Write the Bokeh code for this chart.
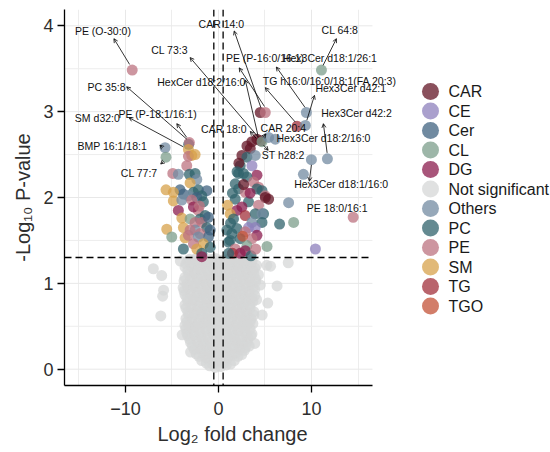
import math
from bokeh.plotting import figure
from bokeh.layouts import row
from bokeh.models import (ColumnDataSource, Span, Arrow, OpenHead, Label,
                          FixedTicker, CategoricalColorMapper, Range1d)
from bokeh.embed import file_html
from bokeh.resources import INLINE
from bokeh.core.properties import value

FONT = "Liberation Sans"

# ---------------- data ----------------
classes = ["CAR", "CE", "Cer", "CL", "DG", "Not significant", "Others",
           "PC", "PE", "SM", "TG", "TGO"]
class_colors = ["#631626", "#8e80bc", "#406380", "#7c9e8b", "#8b1c4e", "#d6d7d7",
                "#738ba2", "#30636c", "#bc7380", "#d7a24b", "#a2303b", "#c35237"]

fc_cut = 0.5
p_cut = 0.05
x_lim = (-16.55, 16.55)
x_ticks = [-10, 0, 10]
x_minor = [-15, -5, 5, 15]
y_ticks = [0, 1, 2, 3, 4]
y_minor = [0.5, 1.5, 2.5, 3.5]

# non-significant lipids (log2 FC, -log10 p)
grey_lfc = [
    -0.95, -0.35, 0.25, 0.85,
    -1.3, -0.6, 0.0, 0.6, 1.3,
    -1.8, -1.1, -0.4, 0.3, 1.0, 1.7,
    -2.1, -1.4, -0.7, 0.0, 0.7, 1.4, 2.1,
    -2.4, -1.7, -1.0, -0.2, 0.5, 1.2, 1.9, 2.5,
    -2.6, -1.9, -1.2, -0.5, 0.2, 0.9, 1.6, 2.3, 2.8,
    -2.8, -2.1, -1.4, -0.6, 0.1, 0.8, 1.5, 2.2, 2.9,
    -3.0, -2.3, -1.6, -0.9, -0.2, 0.5, 1.2, 1.9, 2.6, 3.1,
    -3.1, -2.4, -1.7, -1.0, -0.3, 0.4, 1.1, 1.8, 2.5, 3.2,
    -3.3, -2.6, -1.9, -1.2, -0.5, 0.2, 0.9, 1.6, 2.3, 3.0, 3.5,
    -3.4, -2.7, -2.0, -1.3, -0.6, 0.1, 0.8, 1.5, 2.2, 2.9, 3.6,
    -3.5, -2.8, -2.1, -1.4, -0.7, 0.0, 0.7, 1.4, 2.1, 2.8, 3.4,
    -3.2, -2.5, -1.8, -1.1, -0.4, 0.3, 1.0, 1.7, 2.4, 3.1, 3.7,
    -3.4, -2.9, -2.2, -1.5, -0.8, -0.1, 0.6, 1.3, 2.0, 2.7, 3.4,
    -3.5, -2.8, -2.1, -1.4, -0.7, 0.0, 0.7, 1.4, 2.1, 2.8, 3.5,
    -3.2, -2.5, -1.8, -1.1, -0.4, 0.3, 1.0, 1.7, 2.4, 3.1, 3.8,
    -3.3, -2.6, -1.9, -1.2, -0.5, 0.2, 0.9, 1.6, 2.3, 3.0, 3.8,
    -3.5, -2.9, -2.2, -1.5, -0.8, -0.1, 0.6, 1.3, 2.0, 2.6, 3.4,
    -3.6, -2.9, -2.2, -1.5, -0.8, -0.1, 0.6, 1.3, 2.0, 2.7, 3.4,
    -3.3, -2.6, -1.9, -1.2, -0.5, 0.2, 0.9, 1.6, 2.3, 3.0, 3.7,
    -3.4, -2.7, -2.0, -1.3, -0.6, 0.1, 0.8, 1.5, 2.2, 2.9, 3.6, 4.1,
    -3.6, -3.0, -2.3, -1.6, -0.9, -0.2, 0.5, 1.2, 1.9, 2.6, 3.3, 3.9,
    -3.7, -3.0, -2.3, -1.6, -0.9, -0.2, 0.5, 1.2, 1.9, 2.6, 3.3, 3.9,
    -3.3, -2.6, -1.9, -1.2, -0.5, 0.2, 0.9, 1.6, 2.3, 3.0, 3.7,
    -3.4, -2.7, -2.0, -1.3, -0.6, 0.1, 0.8, 1.5, 2.2, 2.9, 3.6,
    -3.7, -3.0, -2.3, -1.6, -0.9, -0.2, 0.5, 1.2, 1.9, 2.6, 3.3, 4.0,
    -3.6, -2.9, -2.2, -1.5, -0.8, -0.1, 0.6, 1.3, 2.0, 2.7, 3.4, 4.0,
    -3.2, -2.5, -1.8, -1.1, -0.4, 0.3, 1.0, 1.7, 2.4, 3.1, 3.8,
    -3.3, -2.6, -1.9, -1.2, -0.5, 0.2, 0.9, 1.6, 2.3, 3.0, 3.7,
    -3.6, -2.9, -2.2, -1.5, -0.8, -0.1, 0.6, 1.3, 2.0, 2.7, 3.4, 3.9,
    -3.5, -2.8, -2.1, -1.4, -0.7, 0.0, 0.7, 1.4, 2.1, 2.8, 3.5, 4.1,
    -3.3, -2.7, -2.0, -1.3, -0.6, 0.1, 0.8, 1.5, 2.2, 2.9, 3.6,
    -3.1, -2.4, -1.7, -1.0, -0.3, 0.4, 1.1, 1.8, 2.5, 3.2,
    -7.0, -6.1, -5.9, -6.0, -6.2, -3.8, -3.6, -3.9, -3.0, -4.1,
    7.5, 5.2, 6.3, 5.3, 4.7, 4.5, 4.3, 5.6, 3.9, 3.3,
]
grey_logp = [
    0.04, 0.02, 0.03, 0.05,
    0.07, 0.06, 0.08, 0.07, 0.06,
    0.10, 0.12, 0.09, 0.11, 0.13, 0.10,
    0.15, 0.14, 0.16, 0.15, 0.14, 0.16, 0.15,
    0.18, 0.20, 0.19, 0.21, 0.18, 0.20, 0.19, 0.17,
    0.23, 0.24, 0.22, 0.23, 0.25, 0.22, 0.24, 0.23, 0.22,
    0.27, 0.26, 0.28, 0.27, 0.29, 0.26, 0.28, 0.27, 0.25,
    0.31, 0.32, 0.30, 0.31, 0.33, 0.30, 0.32, 0.31, 0.30, 0.32,
    0.35, 0.36, 0.34, 0.35, 0.37, 0.34, 0.36, 0.35, 0.34, 0.36,
    0.39, 0.40, 0.38, 0.39, 0.41, 0.38, 0.40, 0.39, 0.38, 0.40, 0.39,
    0.42, 0.44, 0.43, 0.45, 0.42, 0.43, 0.44, 0.42, 0.45, 0.43, 0.41,
    0.47, 0.48, 0.46, 0.47, 0.49, 0.46, 0.48, 0.47, 0.46, 0.48, 0.47,
    0.51, 0.50, 0.52, 0.51, 0.53, 0.50, 0.52, 0.51, 0.50, 0.52, 0.53,
    0.55, 0.56, 0.54, 0.55, 0.57, 0.54, 0.56, 0.55, 0.54, 0.56, 0.55,
    0.59, 0.60, 0.58, 0.59, 0.61, 0.58, 0.60, 0.59, 0.58, 0.60, 0.59,
    0.63, 0.64, 0.62, 0.63, 0.65, 0.62, 0.64, 0.63, 0.62, 0.64, 0.63,
    0.67, 0.66, 0.68, 0.67, 0.69, 0.66, 0.68, 0.67, 0.66, 0.68, 0.67,
    0.71, 0.72, 0.70, 0.71, 0.73, 0.70, 0.72, 0.71, 0.70, 0.72, 0.71,
    0.75, 0.76, 0.74, 0.75, 0.77, 0.74, 0.76, 0.75, 0.74, 0.76, 0.75,
    0.79, 0.80, 0.78, 0.79, 0.81, 0.78, 0.80, 0.79, 0.78, 0.80, 0.79,
    0.83, 0.82, 0.84, 0.83, 0.85, 0.82, 0.84, 0.83, 0.82, 0.84, 0.83, 0.81,
    0.87, 0.88, 0.86, 0.87, 0.89, 0.86, 0.88, 0.87, 0.86, 0.88, 0.87, 0.86,
    0.91, 0.92, 0.90, 0.91, 0.93, 0.90, 0.92, 0.91, 0.90, 0.92, 0.91, 0.93,
    0.95, 0.96, 0.94, 0.95, 0.97, 0.94, 0.96, 0.95, 0.94, 0.96, 0.95,
    0.99, 0.98, 1.00, 0.99, 1.01, 0.98, 1.00, 0.99, 0.98, 1.00, 0.99,
    1.03, 1.04, 1.02, 1.03, 1.05, 1.02, 1.04, 1.03, 1.02, 1.04, 1.03, 1.02,
    1.07, 1.08, 1.06, 1.07, 1.09, 1.06, 1.08, 1.07, 1.06, 1.08, 1.07, 1.05,
    1.11, 1.12, 1.10, 1.11, 1.13, 1.10, 1.12, 1.11, 1.10, 1.12, 1.11,
    1.15, 1.14, 1.16, 1.15, 1.17, 1.14, 1.16, 1.15, 1.14, 1.16, 1.15,
    1.19, 1.20, 1.18, 1.19, 1.21, 1.18, 1.20, 1.19, 1.18, 1.20, 1.19, 1.18,
    1.23, 1.24, 1.22, 1.23, 1.25, 1.22, 1.24, 1.23, 1.22, 1.24, 1.23, 1.21,
    1.26, 1.27, 1.25, 1.26, 1.28, 1.25, 1.27, 1.26, 1.25, 1.27, 1.26,
    1.28, 1.29, 1.27, 1.28, 1.29, 1.27, 1.28, 1.29, 1.27, 1.28,
    1.17, 1.09, 0.92, 0.85, 0.62, 0.95, 0.51, 0.40, 0.20, 1.26,
    1.24, 1.21, 0.97, 0.77, 0.63, 0.98, 1.10, 1.20, 0.30, 0.27,
]

# significant lipids
sig_lfc = [
    -3.20, -3.13, -3.23, -2.87, -3.23, -2.51, -3.41, -4.91, -4.31, -3.13,
    -2.51, -2.33, -3.05, -5.64, -4.13, -3.77, -4.85, -2.69, -2.16, -1.25,
    -1.79, -3.23, -2.33, -4.85, -3.94, -2.87, -1.62, -4.31, -2.16, -2.69,
    -2.05, -1.43, -3.94, -3.05, -1.97, -2.51, -1.79, -1.08, -1.25, -3.77,
    -5.56, -5.02, -3.59, -3.23, -2.51, -3.05, -1.97, -0.89, -1.08, -2.16,
    -1.62, -2.69, -2.33, -3.77, -0.89, -1.79, -1.79, -5.74, -5.64, -9.27,
    4.49, 5.03, 8.45, 9.45, 9.34, 11.07, 11.71, 9.99, 9.13, 7.54,
    6.57, 8.08, 10.42, 14.48, 5.22, 3.60, 4.14, 4.55, 4.68, 5.39,
    6.11, 3.06, 3.42, 2.52, 3.06, 3.95, 2.34, 3.60, 4.14, 2.16,
    2.69, 3.06, 1.80, 3.77, 4.31, 4.68, 4.14, 2.16, 2.88, 5.03,
    5.39, 5.03, 3.23, 1.80, 2.52, 4.31, 0.97, 1.98, 1.26, 1.62,
    2.88, 3.95, 4.85, 4.68, 3.60, 4.68, 3.23, 3.95, 1.98, 0.91,
    1.44, 2.88, 4.14, 2.34, 3.60, 1.26, 1.08, 3.06, 1.80, 2.88,
    2.34, 2.60, 2.20, 2.00, 1.50, 1.30, 1.50, 3.50, 4.00, 2.70,
    3.40, 1.10,
]
sig_logp = [
    2.62, 2.64, 2.56, 2.49, 2.48, 2.50, 2.37, 2.28, 2.27, 2.27,
    2.28, 2.21, 2.17, 2.09, 2.09, 2.04, 2.06, 2.06, 2.09, 2.08,
    2.02, 2.02, 2.00, 1.96, 1.97, 1.97, 1.95, 1.85, 1.85, 1.89,
    1.90, 1.79, 1.76, 1.75, 1.75, 1.71, 1.71, 1.77, 1.65, 1.65,
    1.63, 1.54, 1.53, 1.56, 1.62, 1.62, 1.58, 1.62, 1.54, 1.54,
    1.46, 1.46, 1.40, 1.40, 1.42, 1.35, 1.31, 2.58, 2.47, 3.485,
    2.99, 2.99, 2.83, 2.99, 2.84, 3.485, 2.45, 2.44, 2.27, 1.94,
    1.69, 1.71, 1.40, 1.77, 1.43, 2.65, 2.68, 2.66, 2.65, 2.70,
    2.68, 2.60, 2.57, 2.49, 2.47, 2.49, 2.37, 2.37, 2.26, 2.28,
    2.28, 2.24, 2.16, 2.18, 2.12, 2.08, 2.10, 2.10, 2.06, 2.02,
    1.98, 2.00, 1.95, 1.98, 1.89, 1.91, 1.91, 1.85, 1.81, 1.75,
    1.79, 1.81, 1.81, 1.81, 1.71, 1.71, 1.65, 1.65, 1.64, 1.62,
    1.58, 1.60, 1.56, 1.52, 1.52, 1.50, 1.48, 1.44, 1.40, 1.38,
    1.35, 1.55, 2.40, 2.30, 2.05, 1.70, 1.35, 1.32, 1.40, 2.15,
    2.05, 1.35,
]
sig_class = [
    "PC", "PE", "SM", "SM", "PE", "SM", "PE", "PE", "Others", "PC",
    "PC", "Others", "SM", "SM", "Cer", "Cer", "SM", "PC", "PC", "Cer",
    "PC", "Others", "Cer", "SM", "Others", "PE", "PC", "DG", "PE", "DG",
    "PE", "PC", "SM", "CL", "PC", "PE", "PE", "Cer", "PC", "SM",
    "SM", "CL", "SM", "PE", "Others", "PE", "PE", "Cer", "Cer", "Others",
    "SM", "PE", "SM", "PC", "PC", "PC", "DG", "Others", "CL", "PE",
    "CAR", "PE", "TG", "Others", "Others", "CL", "Others", "Others", "Others", "Others",
    "PC", "CL", "CE", "PE", "CL", "CAR", "CAR", "CAR", "CL", "Others",
    "Others", "CAR", "CAR", "CAR", "PC", "Others", "PC", "CE", "DG", "PC",
    "PC", "PC", "PC", "PE", "PE", "PC", "PC", "PC", "PE", "PE",
    "CAR", "CAR", "PC", "PC", "DG", "PE", "SM", "DG", "SM", "PC",
    "TG", "PC", "PC", "Others", "Others", "PC", "CE", "CE", "PC", "PC",
    "PC", "PE", "DG", "PC", "PE", "PC", "PC", "CL", "PE", "DG",
    "DG", "TGO", "CAR", "PC", "PC", "PC", "TG", "PC", "PE", "CAR",
    "DG", "PC",
]

label_text = ["PE (O-30:0)", "CAR 14:0", "CL 64:8", "PE (P-16:0/16:1)",
              "Hex3Cer d18:1/26:1", "CL 73:3", "HexCer d18:2/16:0",
              "TG h16:0/16:0/18:1(FA 20:3)", "Hex3Cer d42:1", "PC 35:8",
              "Hex3Cer d42:2", "PE (P-18:1/16:1)", "SM d32:0", "CAR 18:0",
              "CAR 20:4", "Hex3Cer d18:2/16:0", "BMP 16:1/18:1", "ST h28:2",
              "CL 77:7", "Hex3Cer d18:1/16:0", "PE 18:0/16:1"]
label_x = [-12.42, 0.31, 13.06, 5.00, 11.98, -5.26, -1.84, 11.95, 14.22, -12.03,
           14.84, -6.55, -13.02, 0.58, 6.97, 11.28, -11.42, 6.95, -8.52, 13.19, 12.76]
label_y = [3.94, 4.02, 3.95, 3.62, 3.62, 3.72, 3.34, 3.36, 3.27, 3.29,
           2.98, 2.97, 2.93, 2.80, 2.81, 2.69, 2.60, 2.49, 2.28, 2.16, 1.88]

# repel segments: from the lipid (start) to its label (end)
seg_x0 = [-9.55, 4.31, 4.55, 4.95, 4.25, 8.25, 9.30, 9.50, 11.25, 11.68,
          9.99, 4.85, 4.80, 4.05, -3.41, -3.41, -3.77, -6.00, -5.90]
seg_y0 = [3.55, 2.70, 3.05, 3.06, 2.72, 2.88, 3.05, 2.90, 3.54, 2.52,
          2.38, 2.61, 2.70, 2.69, 2.68, 2.70, 2.59, 2.58, 2.42]
seg_x1 = [-11.24, -3.05, 1.69, 2.23, 2.88, 5.03, 6.22, 10.32, 12.68, 11.28,
          9.77, 5.34, 5.10, 3.42, -9.87, -4.48, -9.62, -6.30, -6.21]
seg_y1 = [3.85, 3.63, 3.94, 3.51, 3.37, 3.28, 3.52, 3.19, 3.85, 2.86,
          2.19, 2.55, 2.74, 2.77, 3.29, 2.86, 2.93, 2.61, 2.39]

assert len(grey_lfc) == len(grey_logp)
assert len(sig_lfc) == len(sig_logp) == len(sig_class)

# ---------------- main plot ----------------
# The frame runs 28 px past the panel so the repelled labels are not clipped;
# axis line and horizontal rules stop at the panel limit.
PX_PER_UNIT = 9.28
x_right = x_lim[1] + 28 / PX_PER_UNIT
p = figure(width=400, height=452, x_range=Range1d(x_lim[0], x_right),
           y_range=Range1d(-0.19, 4.19), output_backend="svg",
           toolbar_location=None, min_border_left=64, min_border_right=0,
           min_border_top=9, min_border_bottom=67)
p.outline_line_color = None
p.background_fill_color = "white"
p.border_fill_color = "white"

p.xaxis.ticker = FixedTicker(ticks=x_ticks, minor_ticks=x_minor)
p.yaxis.ticker = FixedTicker(ticks=y_ticks, minor_ticks=y_minor)
p.xaxis.bounds = x_lim
p.xgrid.grid_line_color = "#e8e8e8"
p.xgrid.minor_grid_line_color = "#ededed"
p.ygrid.grid_line_color = None
p.ygrid.minor_grid_line_color = None

# horizontal grid rules limited to the panel
hg = y_ticks + y_minor
p.segment(x0=[x_lim[0]] * len(hg), x1=[x_lim[1]] * len(hg), y0=hg, y1=hg,
          line_color=["#e8e8e8"] * len(y_ticks) + ["#ededed"] * len(y_minor),
          line_width=1)

p.xaxis.axis_label = "Log\u2082 fold change"
p.yaxis.axis_label = "-Log\u2081\u2080 P-value"
for ax in (p.xaxis, p.yaxis):
    ax.axis_line_color = "black"
    ax.axis_line_width = 1.3
    ax.major_tick_line_color = "black"
    ax.major_tick_line_width = 1.3
    ax.major_tick_out = 7
    ax.major_tick_in = 0
    ax.minor_tick_line_color = None
    ax.major_label_text_font = FONT
    ax.major_label_text_font_size = "18px"
    ax.major_label_text_color = "#2e2e2e"
    ax.axis_label_text_font = FONT
    ax.axis_label_text_font_size = "20px"
    ax.axis_label_text_font_style = "normal"
    ax.axis_label_text_color = "#2e2e2e"
p.xaxis.major_label_standoff = 9
p.xaxis.axis_label_standoff = 5
p.yaxis.major_label_standoff = 4
p.yaxis.axis_label_standoff = 6

mapper = CategoricalColorMapper(factors=classes, palette=class_colors)

grey_src = ColumnDataSource(dict(x=grey_lfc, y=grey_logp,
                                 cls=["Not significant"] * len(grey_lfc)))
p.scatter("x", "y", source=grey_src, size=11,
          fill_color={"field": "cls", "transform": mapper},
          fill_alpha=0.75, line_color=None)

sig_src = ColumnDataSource(dict(x=sig_lfc, y=sig_logp, cls=sig_class))
p.scatter("x", "y", source=sig_src, size=11,
          fill_color={"field": "cls", "transform": mapper},
          fill_alpha=0.75, line_color=None)

for loc in (-fc_cut, fc_cut):
    p.add_layout(Span(location=loc, dimension="height", line_color="black",
                      line_dash="7 4", line_width=1.3))
thr = -math.log10(p_cut)
p.segment(x0=[x_lim[0]], x1=[x_lim[1]], y0=[thr], y1=[thr], line_color="black",
          line_dash="7 4", line_width=1.3)

seg_src = ColumnDataSource(dict(x0=seg_x0, y0=seg_y0, x1=seg_x1, y1=seg_y1))
p.add_layout(Arrow(end=OpenHead(size=4, line_width=0.8, line_color="black"),
                   x_start="x0", y_start="y0", x_end="x1", y_end="y1",
                   source=seg_src, line_width=0.8, line_color="black"))

for lx, ly, lt in zip(label_x, label_y, label_text):
    p.add_layout(Label(x=lx, y=ly, text=lt, text_font=FONT,
                       text_font_size="10.5px", text_align="center",
                       text_baseline="middle", text_color="#111111"))

# ---------------- legend panel ----------------
# frame aligned with the main plot frame: data units = page pixels
leg = figure(width=150, height=452, x_range=Range1d(0, 150), y_range=Range1d(385, 9),
             output_backend="svg", toolbar_location=None,
             x_axis_location=None, y_axis_location=None,
             min_border_left=0, min_border_right=0, min_border_top=9,
             min_border_bottom=67)
leg.outline_line_color = None
leg.grid.visible = False
leg.background_fill_color = "white"
leg.border_fill_color = "white"

leg_top = 91
leg_pitch = 19.5
leg_y = [leg_top + i * leg_pitch for i in range(len(classes))]
leg_src = ColumnDataSource(dict(x=[30] * len(classes), tx=[48] * len(classes),
                                y=leg_y, cls=classes))
leg.scatter("x", "y", source=leg_src, size=17,
            fill_color={"field": "cls", "transform": mapper},
            fill_alpha=0.75, line_color=None)
leg.text("tx", "y", text="cls", source=leg_src, text_font=value(FONT),
         text_font_size="16px", text_baseline="middle", text_align="left",
         text_color="#1a1a1a")

layout = row(p, leg)
open("out.html", "w").write(file_html(layout, INLINE))
